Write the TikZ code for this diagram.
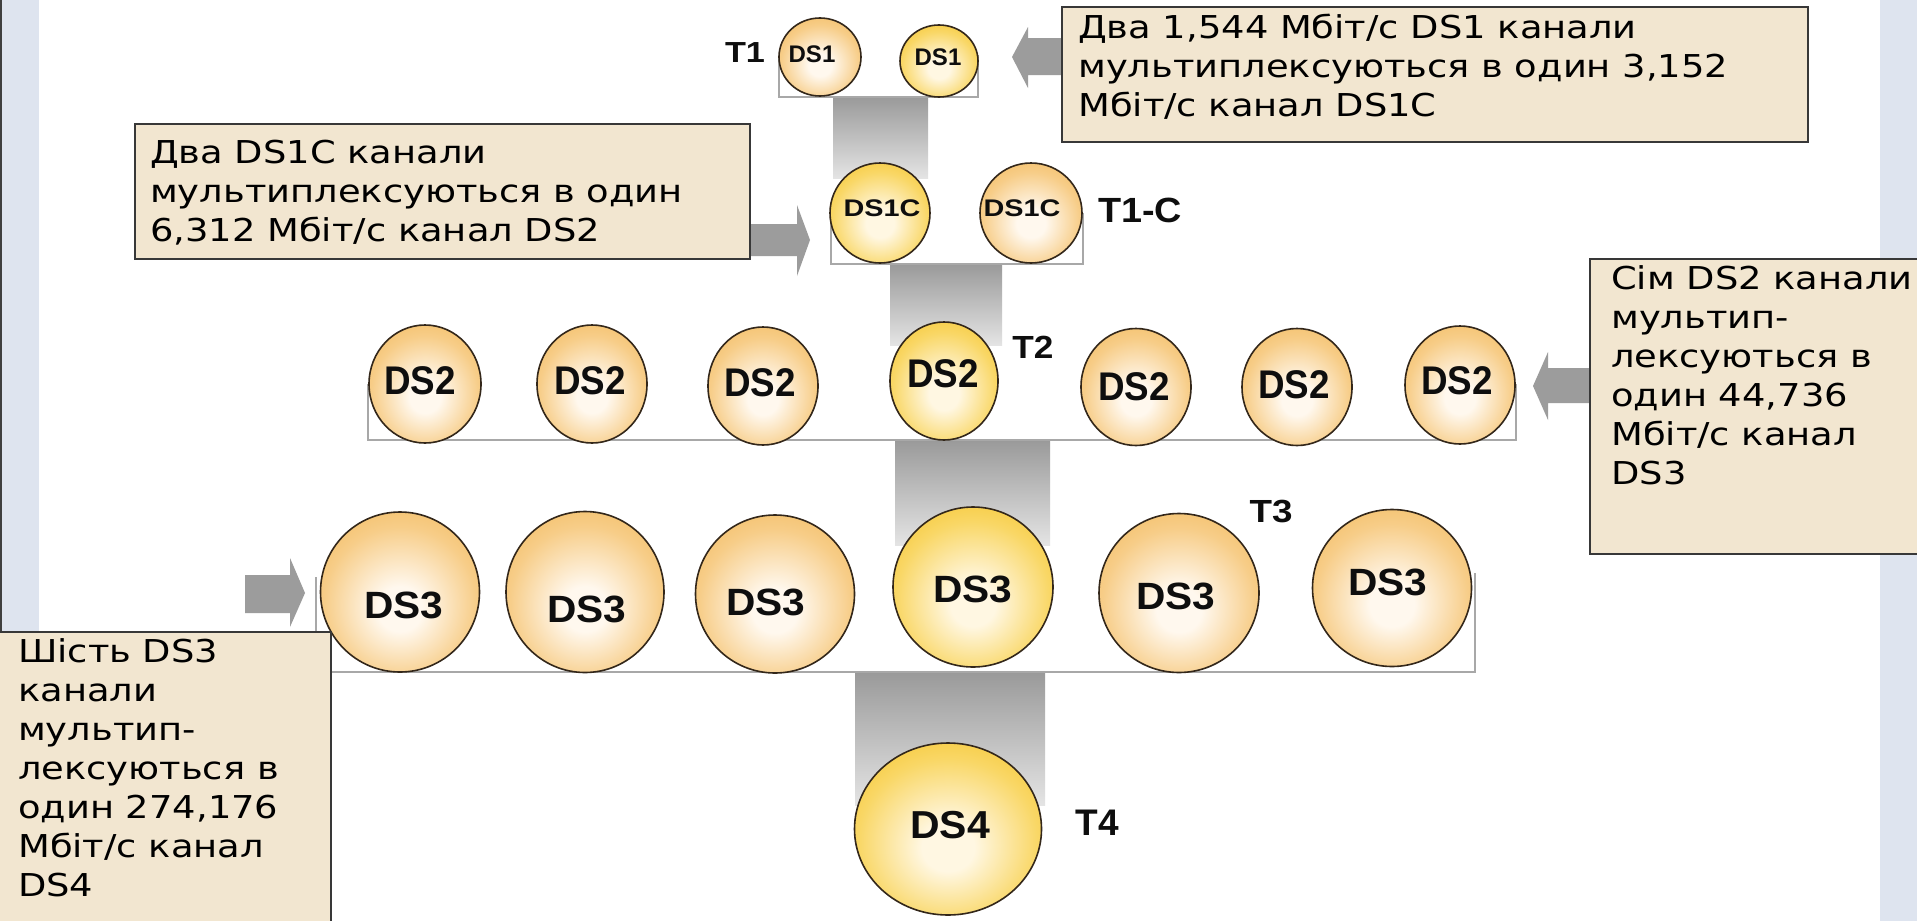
\documentclass[tikz,border=0pt]{standalone}
\usepackage{fontspec}
\usepackage{graphicx}
\setmainfont{DejaVu Sans}
\newfontfamily\notefont{DejaVu Sans}[FakeStretch=1.17]
\newfontfamily\labfont{Liberation Sans}
\usetikzlibrary{shapes.geometric}

\definecolor{strip}{HTML}{DEE4EF}
\definecolor{stripedge}{HTML}{3F3F3F}
\definecolor{boxfill}{HTML}{F2E6D0}
\definecolor{boxline}{HTML}{383838}
\definecolor{grpline}{HTML}{A8A8A8}
\definecolor{arrgray}{HTML}{9C9C9C}
\definecolor{barTop}{HTML}{999999}
\definecolor{barBot}{HTML}{E4E4E4}
\definecolor{coinEdge}{HTML}{F0B24C}
\definecolor{coinMid}{HTML}{F7CD88}
\definecolor{coinCtr}{HTML}{FFF8EE}
\definecolor{hubEdge}{HTML}{F4BC14}
\definecolor{hubMid}{HTML}{F9D766}
\definecolor{hubCtr}{HTML}{FFF7E2}
\definecolor{coinLine}{HTML}{33271A}
\definecolor{labtext}{HTML}{0E0E0E}

\pgfdeclareradialshading{coinshade}{\pgfpoint{0bp}{-6bp}}{color(0bp)=(coinCtr); color(7bp)=(coinCtr); color(24bp)=(coinMid); color(40bp)=(coinEdge); color(60bp)=(coinEdge)}
\pgfdeclareradialshading{hubshade}{\pgfpoint{0bp}{-6bp}}{color(0bp)=(hubCtr); color(7bp)=(hubCtr); color(24bp)=(hubMid); color(40bp)=(hubEdge); color(60bp)=(hubEdge)}

\newcommand\lbl[3]{\scalebox{#2}[1]{\labfont\bfseries\fontsize{#1pt}{#1pt}\selectfont #3}}

\tikzset{
  coin/.style={ellipse, draw=coinLine, line width=1.6pt, shading=coinshade, inner sep=0pt},
  hub/.style={ellipse, draw=coinLine, line width=1.6pt, shading=hubshade, inner sep=0pt},
  dslab/.style={inner sep=0pt, text=labtext},
  note/.style={draw=boxline, line width=1.6pt, fill=boxfill, inner sep=0pt, anchor=north west},
  notetext/.style={align=left, inner sep=0pt, anchor=north west, font={\notefont\fontsize{31.5pt}{39pt}\selectfont}},
  bar/.style={top color=barTop, bottom color=barBot, draw=none},
  grp/.style={draw=grpline, line width=1.6pt},
  blockarrow/.style={fill=arrgray, draw=none}
}

\begin{document}
\begin{tikzpicture}[x=1pt,y=-1pt]
\useasboundingbox (0,0) rectangle (1917,921);
\fill[white] (0,0) rectangle (1917,921);
\fill[strip] (0,0) rectangle (39,921);
\fill[strip] (1880,0) rectangle (1917,921);
\draw[stripedge, line width=2pt] (1,0) -- (1,921);

% gray connectors between the levels
\shade[bar] (833,96) rectangle (928,178);
\shade[bar] (890,263) rectangle (1002,345);
\shade[bar] (895,439) rectangle (1050,545);
\shade[bar] (855,671) rectangle (1045,805);

% group brackets
\draw[grp] (779,55) -- (779,97) -- (978,97) -- (978,55);
\draw[grp] (831,213) -- (831,264) -- (1083,264) -- (1083,213);
\draw[grp] (368,384) -- (368,440) -- (1516,440) -- (1516,384);
\draw[grp] (316,577) -- (316,672) -- (1475,672) -- (1475,573);

% T1 level
\node[coin, minimum width=82pt, minimum height=78pt] (ds1a) at (820,57) {};
\node[hub,  minimum width=78pt, minimum height=72pt] (ds1b) at (939,61) {};
\node[dslab] (l1a) at (812,54) {\lbl{24}{1.0}{DS1}};
\node[dslab] (l1b) at (938,57) {\lbl{24}{1.0}{DS1}};
\node[dslab] (t1) at (745,53) {\lbl{29}{1.18}{T1}};

% T1-C level
\node[hub,  minimum width=100pt, minimum height=100pt] (ds1ca) at (880,213) {};
\node[coin, minimum width=102pt, minimum height=100pt] (ds1cb) at (1031,213) {};
\node[dslab] (l1ca) at (882,208) {\lbl{24}{1.2}{DS1C}};
\node[dslab] (l1cb) at (1022,208) {\lbl{24}{1.2}{DS1C}};
\node[dslab] (t1c) at (1140,210) {\lbl{35}{1.08}{T1-C}};

% T2 level
\node[coin, minimum width=112pt, minimum height=118pt] (ds2a) at (425,384) {};
\node[coin, minimum width=110pt, minimum height=118pt] (ds2b) at (592,384) {};
\node[coin, minimum width=110pt, minimum height=118pt] (ds2c) at (763,386) {};
\node[hub,  minimum width=108pt, minimum height=118pt] (ds2d) at (944,381) {};
\node[coin, minimum width=110pt, minimum height=117pt] (ds2e) at (1136,387) {};
\node[coin, minimum width=110pt, minimum height=117pt] (ds2f) at (1297,387) {};
\node[coin, minimum width=110pt, minimum height=118pt] (ds2g) at (1460,385) {};
\node[dslab] (l2a) at (420,381) {\lbl{40}{0.92}{DS2}};
\node[dslab] (l2b) at (590,381) {\lbl{40}{0.92}{DS2}};
\node[dslab] (l2c) at (760,383) {\lbl{40}{0.92}{DS2}};
\node[dslab] (l2d) at (943,374) {\lbl{40}{0.92}{DS2}};
\node[dslab] (l2e) at (1134,387) {\lbl{40}{0.92}{DS2}};
\node[dslab] (l2f) at (1294,385) {\lbl{40}{0.92}{DS2}};
\node[dslab] (l2g) at (1457,381) {\lbl{40}{0.92}{DS2}};
\node[dslab] (t2) at (1033,347) {\lbl{32}{1.1}{T2}};

% T3 level
\node[coin, minimum width=159pt, minimum height=160pt] (ds3a) at (400,592) {};
\node[coin, minimum width=158pt, minimum height=161pt] (ds3b) at (585,592) {};
\node[coin, minimum width=159pt, minimum height=158pt] (ds3c) at (775,594) {};
\node[hub,  minimum width=160pt, minimum height=160pt] (ds3d) at (973,587) {};
\node[coin, minimum width=160pt, minimum height=159pt] (ds3e) at (1179,593) {};
\node[coin, minimum width=159pt, minimum height=157pt] (ds3f) at (1392,588) {};
\node[dslab] (l3a) at (404,605) {\lbl{38}{1.07}{DS3}};
\node[dslab] (l3b) at (587,609) {\lbl{38}{1.07}{DS3}};
\node[dslab] (l3c) at (766,602) {\lbl{38}{1.07}{DS3}};
\node[dslab] (l3d) at (973,589) {\lbl{38}{1.07}{DS3}};
\node[dslab] (l3e) at (1176,596) {\lbl{38}{1.07}{DS3}};
\node[dslab] (l3f) at (1388,582) {\lbl{38}{1.07}{DS3}};
\node[dslab] (t3) at (1271,512) {\lbl{32}{1.15}{T3}};

% T4 level
\node[hub, minimum width=187pt, minimum height=172pt] (ds4) at (948,829) {};
\node[dslab] (l4) at (950,825) {\lbl{39}{1.05}{DS4}};
\node[dslab] (t4) at (1097,823) {\lbl{37}{1.0}{T4}};

% block arrows
\fill[blockarrow] (1061,38) -- (1028,38) -- (1028,27) -- (1012,57) -- (1028,88) -- (1028,75) -- (1061,75) -- cycle;
\fill[blockarrow] (749,224) -- (797,224) -- (797,205) -- (810,240) -- (797,276) -- (797,256) -- (749,256) -- cycle;
\fill[blockarrow] (1590,368) -- (1548,368) -- (1548,352) -- (1533,386) -- (1548,420) -- (1548,403) -- (1590,403) -- cycle;
\fill[blockarrow] (245,575) -- (290,575) -- (290,558) -- (305,593) -- (290,627) -- (290,613) -- (245,613) -- cycle;

% notes
\node[note, minimum width=746pt, minimum height=135pt] (boxA) at (1061,6) {};
\node[notetext] (txtA) at (1078,14) {Два 1,544 Мбіт/с DS1 канали\\мультиплексуються в один 3,152\\Мбіт/с канал DS1C};

\node[note, minimum width=615pt, minimum height=135pt] (boxB) at (134,123) {};
\node[notetext] (txtB) at (150,140) {Два DS1C канали\\мультиплексуються в один\\6,312 Мбіт/с канал DS2};

\node[note, minimum width=345pt, minimum height=295pt] (boxC) at (1589,258) {};
\node[notetext] (txtC) at (1611,265) {Сім DS2 канали\\мультип-\\лексуються в\\один 44,736\\Мбіт/с канал\\DS3};

\node[note, minimum width=335pt, minimum height=300pt] (boxD) at (-5,631) {};
\node[notetext] (txtD) at (18,638) {Шість DS3\\канали\\мультип-\\лексуються в\\один 274,176\\Мбіт/с канал\\DS4};
\end{tikzpicture}
\end{document}
